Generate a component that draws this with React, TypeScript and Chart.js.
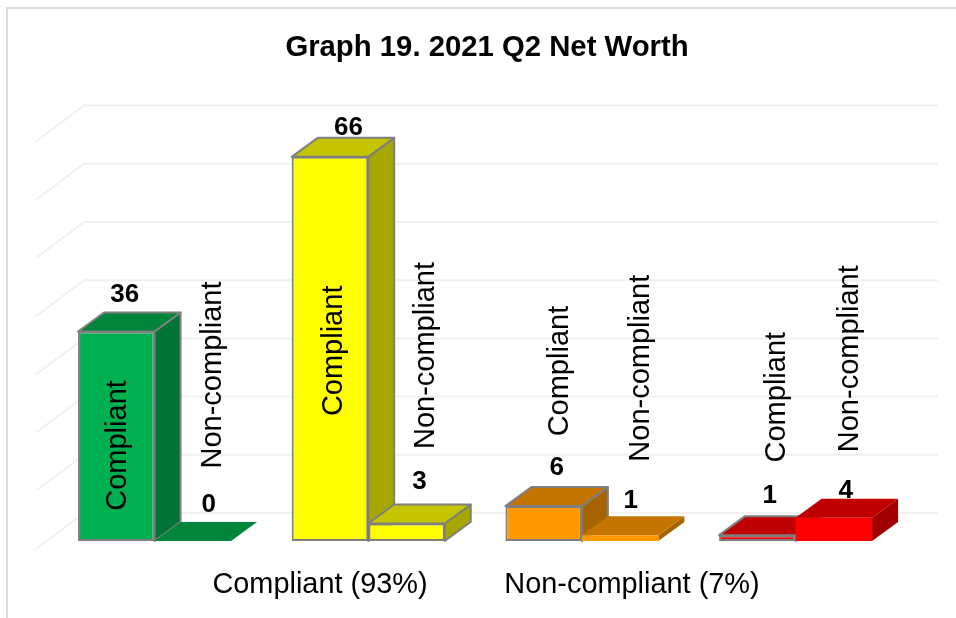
import React, { useEffect, useRef } from "react";
import { Chart, registerables } from "chart.js";

Chart.register(...registerables);

const titleText = "Graph 19. 2021 Q2 Net Worth";
const groups = ["Group 1", "Group 2", "Group 3", "Group 4"];
const seriesNames = ["Compliant", "Non-compliant"];
const compliant = [36, 66, 6, 1];
const nonCompliant = [0, 3, 1, 4];
const groupCaptions = ["Compliant (93%)", "Non-compliant (7%)"];
const yTicks = [0, 10, 20, 30, 40, 50, 60, 70];

const frontColors = ["#00B050", "#FFFF00", "#FF9900", "#FF0000"];
const topColors = ["#00863C", "#C4C400", "#C47500", "#C00000"];
const sideColors = ["#007434", "#A6A600", "#A66300", "#A00000"];
const compliantOutlined = [true, true, true, true];
const nonCompliantOutlined = [false, true, false, false];

const FONT = '"Liberation Sans", Arial, sans-serif';
const GRAY = "#7F7F7F";
const DX = 26;
const DY = -19;

// label placement relative to each bar's centre and top, [compliant, non-compliant] per group
const valueOffsets = [
  [[8.5, -36.5], [16, -36.5]],
  [[18.5, -29.5], [13, -41.5]],
  [[13, -38.5], [10.5, -34.5]],
  [[12.5, -39.5], [12, -26.5]],
];
const nameOffsets = [
  [[2, 114], [20.5, -166]],
  [[4, 194], [20, -168]],
  [[16, -135], [20.5, -167]],
  [[19.5, -138], [16, -159]],
];

function poly(ctx: CanvasRenderingContext2D, pts: number[][], fill: string, stroke: boolean) {
  ctx.beginPath();
  pts.forEach((p, i) => (i ? ctx.lineTo(p[0], p[1]) : ctx.moveTo(p[0], p[1])));
  ctx.closePath();
  ctx.fillStyle = fill;
  ctx.fill();
  if (stroke) {
    ctx.strokeStyle = GRAY;
    ctx.lineWidth = 2;
    ctx.lineJoin = "round";
    ctx.stroke();
  }
}

const box3d = {
  id: "box3d",
  beforeDraw(chart: any) {
    const { ctx, scales } = chart;
    const y = scales.y;
    ctx.save();
    // outer frame
    ctx.strokeStyle = "#DCDCDC";
    ctx.lineWidth = 2;
    ctx.beginPath();
    ctx.moveTo(7, 618);
    ctx.lineTo(7, 8);
    ctx.lineTo(956, 8);
    ctx.stroke();
    // 3D back and side wall gridlines
    ctx.strokeStyle = "#F0F0F0";
    ctx.lineWidth = 2;
    yTicks.forEach((t) => {
      const py = y.getPixelForValue(t);
      ctx.beginPath();
      ctx.moveTo(36, py + 8);
      ctx.lineTo(84, py - 28);
      ctx.lineTo(938, py - 28);
      ctx.stroke();
    });
    ctx.restore();
  },
  beforeDatasetsDraw(chart: any) {
    const { ctx } = chart;
    const m0 = chart.getDatasetMeta(0).data;
    const m1 = chart.getDatasetMeta(1).data;
    ctx.save();
    groups.forEach((_, i) => {
      [m0[i], m1[i]].forEach((bar: any, s: number) => {
        const outlined = (s === 0 ? compliantOutlined : nonCompliantOutlined)[i];
        const l = bar.x - bar.width / 2;
        const r = bar.x + bar.width / 2;
        const t = bar.y;
        const b = bar.base;
        if (b - t > 0.5) {
          poly(ctx, [[r, t], [r + DX, t + DY], [r + DX, b + DY], [r, b]], sideColors[i], outlined);
        }
        poly(ctx, [[l, t], [r, t], [r + DX, t + DY], [l + DX, t + DY]], topColors[i], outlined);
      });
    });
    ctx.restore();
  },
  afterDatasetsDraw(chart: any) {
    const { ctx, data } = chart;
    ctx.save();
    ctx.fillStyle = "#000";
    ctx.textAlign = "center";
    ctx.textBaseline = "middle";
    data.datasets.forEach((ds: any, s: number) => {
      const meta = chart.getDatasetMeta(s).data;
      ds.data.forEach((v: number, i: number) => {
        const bar = meta[i];
        const [vx, vy] = valueOffsets[i][s];
        ctx.font = `bold 26px ${FONT}`;
        ctx.fillText(String(v), bar.x + vx, bar.y + vy);
        const [nx, ny] = nameOffsets[i][s];
        ctx.save();
        ctx.translate(bar.x + nx, bar.y + ny);
        ctx.rotate(-Math.PI / 2);
        ctx.font = `29px ${FONT}`;
        ctx.fillText(ds.label, 0, 0);
        ctx.restore();
      });
    });
    ctx.font = `28.9px ${FONT}`;
    ctx.fillText(groupCaptions[0], 320, 585.5);
    ctx.fillText(groupCaptions[1], 632, 585.5);
    ctx.restore();
  },
};

export default function App() {
  const ref = useRef<HTMLCanvasElement>(null);
  useEffect(() => {
    if (!ref.current) return;
    const chart = new Chart(ref.current, {
      type: "bar",
      data: {
        labels: groups,
        datasets: [
          {
            label: seriesNames[0],
            data: compliant,
            backgroundColor: frontColors,
            borderColor: compliantOutlined.map((o, i) => (o ? GRAY : frontColors[i])),
            borderWidth: compliantOutlined.map((o) => (o ? 2 : 0)),
            borderSkipped: false,
          },
          {
            label: seriesNames[1],
            data: nonCompliant,
            backgroundColor: frontColors,
            borderColor: nonCompliantOutlined.map((o, i) => (o ? GRAY : frontColors[i])),
            borderWidth: nonCompliantOutlined.map((o) => (o ? 2 : 0)),
            borderSkipped: false,
          },
        ],
      },
      options: {
        responsive: false,
        animation: false,
        layout: { padding: { left: 18, right: 0, top: 0, bottom: 0 } },
        datasets: { bar: { categoryPercentage: 0.716, barPercentage: 1 } },
        plugins: {
          legend: { display: false },
          tooltip: { enabled: false },
          title: {
            display: true,
            text: titleText,
            color: "#000",
            font: { family: FONT, size: 29.3, weight: "bold" },
            padding: { top: 30, bottom: 68.4 },
          },
        },
        scales: {
          x: {
            grid: { display: false },
            border: { display: false },
            ticks: { display: false },
            afterFit: (s: any) => {
              s.height = 77;
            },
          },
          y: {
            min: 0,
            max: 70,
            grid: { display: false },
            border: { display: false },
            ticks: { display: false, stepSize: 10 },
            afterFit: (s: any) => {
              s.width = 29.7;
            },
          },
          yRight: {
            position: "right",
            min: 0,
            max: 70,
            grid: { display: false },
            border: { display: false },
            ticks: { display: false },
            afterFit: (s: any) => {
              s.width = 53.6;
            },
          },
        },
      } as any,
      plugins: [box3d],
    });
    return () => chart.destroy();
  }, []);
  return (
    <div style={{ position: "fixed", left: 0, top: 0, width: 956, height: 618, overflow: "hidden", background: "#fff" }}>
      <canvas ref={ref} width={956} height={618} style={{ display: "block" }} />
    </div>
  );
}
